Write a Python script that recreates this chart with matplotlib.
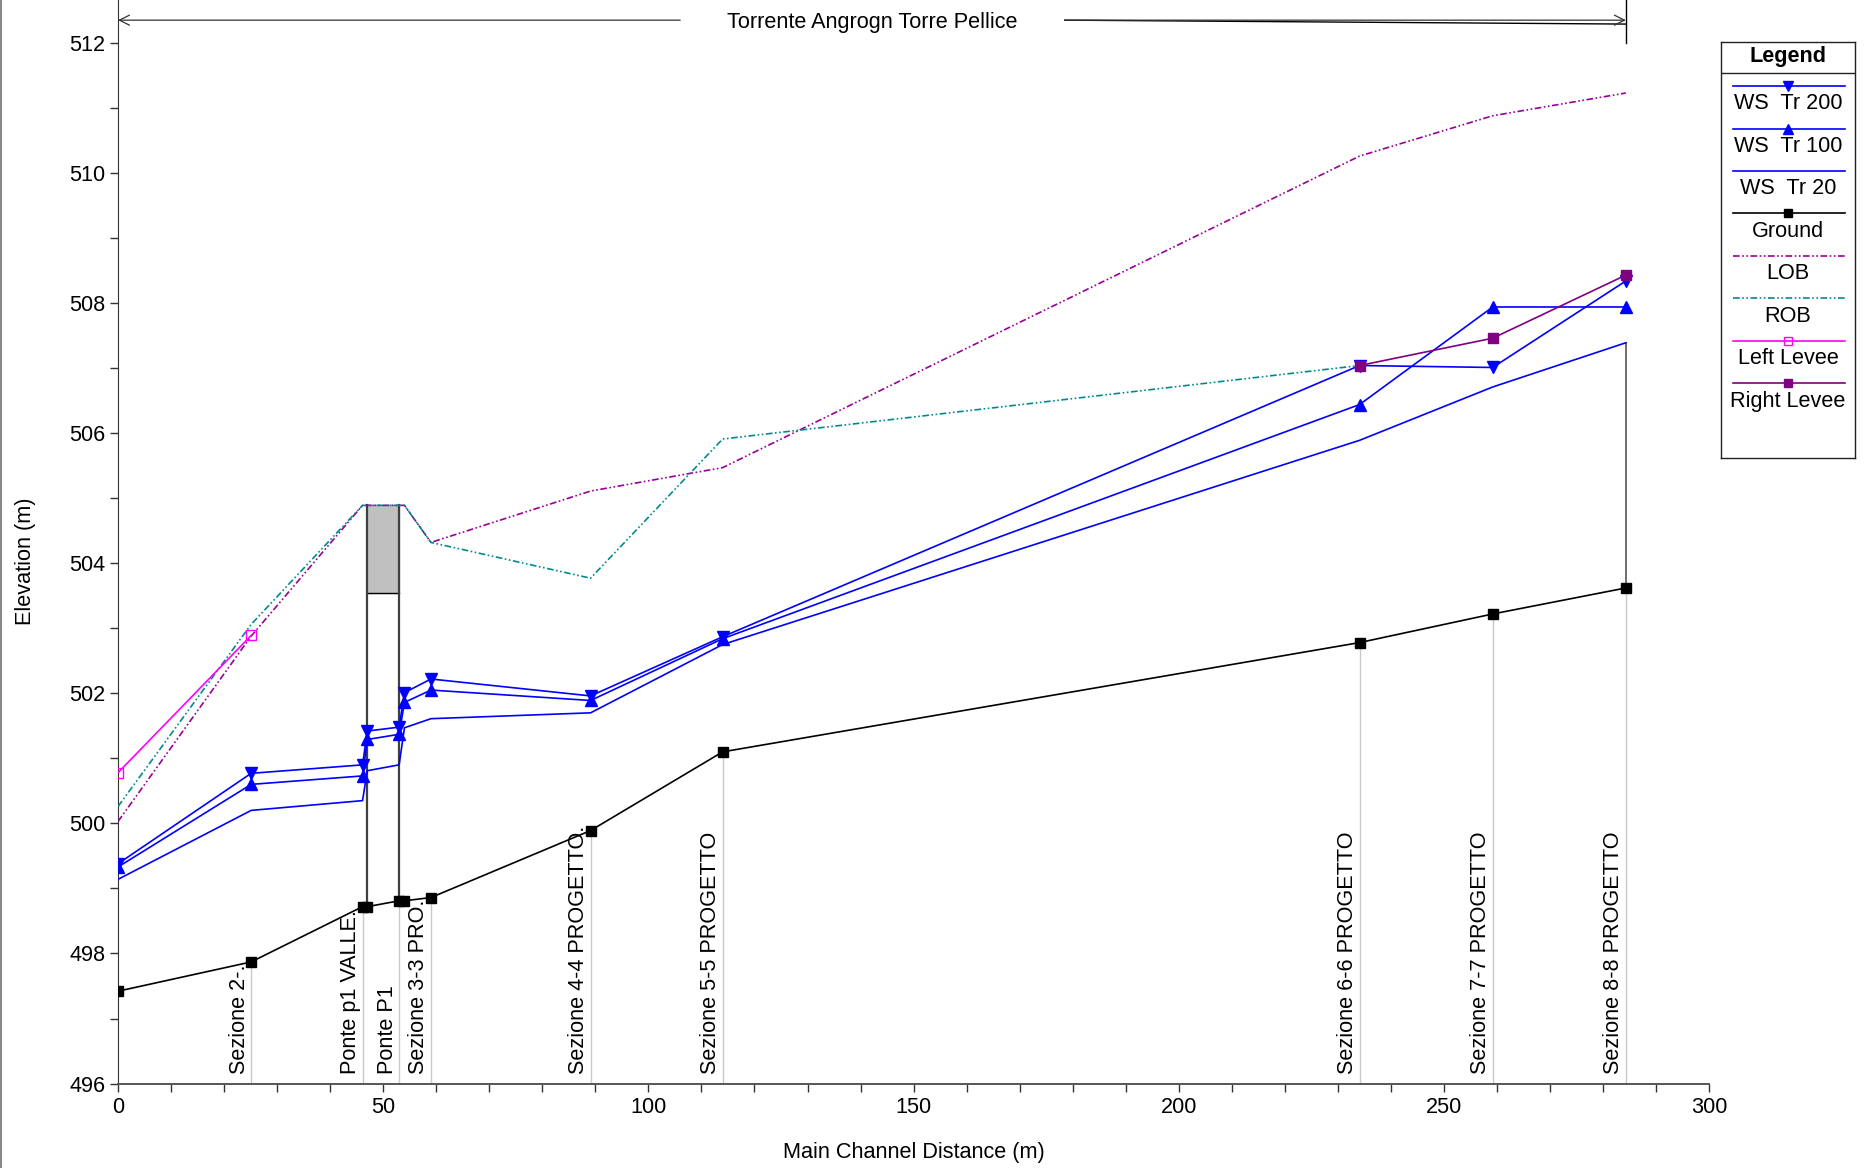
import numpy as np
import matplotlib
matplotlib.use('Agg')
import matplotlib.pyplot as plt
from matplotlib.ticker import MultipleLocator
from matplotlib.lines import Line2D

plt.rcParams['font.family'] = ['Liberation Sans', 'DejaVu Sans']

# ── Profile data ────────────────────────────────────────────────
station = [0, 25.1, 46.1, 47.0, 53.0, 54.0, 59.0, 89.1, 114.0, 234.1, 259.2, 284.3]
ground = [497.42, 497.87, 498.72, 498.72, 498.81, 498.81, 498.86, 499.89, 501.10, 502.78, 503.22, 503.62]
ws_tr200 = [499.38, 500.77, 500.90, 501.42, 501.48, 502.01, 502.22, 501.96, 502.87, 507.04, 507.01, 508.34]
ws_tr100 = [499.33, 500.60, 500.73, 501.29, 501.37, 501.86, 502.05, 501.89, 502.84, 506.44, 507.94, 507.94]
ws_tr20 = [499.14, 500.20, 500.35, 500.81, 500.90, 501.47, 501.61, 501.70, 502.75, 505.89, 506.71, 507.39]
lob = [500.03, 502.88, 504.89, 504.89, 504.89, 504.89, 504.32, 505.11, 505.47, 510.26, 510.88, 511.23]
rob = [500.26, 503.06, 504.89, 504.89, 504.89, 504.89, 504.32, 503.77, 505.91, 507.04, np.nan, np.nan]

left_levee_x = [0, 25.1]
left_levee = [500.78, 502.89]
right_levee_x = [234.1, 259.2, 284.3]
right_levee = [507.04, 507.46, 508.43]

# bridge deck
bridge_x = [47.0, 53.0]
low_chord = 503.55
high_chord = 504.89

# station labels
label_x = [25.1, 46.1, 53.0, 59.0, 89.1, 114.0, 234.1, 259.2, 284.3]
label_text = ["Sezione 2-.", "Ponte p1 VALLE.", "Ponte P1", "Sezione 3-3 PRO.",
              "Sezione 4-4 PROGETTO.", "Sezione 5-5 PROGETTO", "Sezione 6-6 PROGETTO",
              "Sezione 7-7 PROGETTO", "Sezione 8-8 PROGETTO"]

reach_name = "Torrente Angrogn Torre Pellice"

FS = 15.6

# series styles: (label, x, y, color, linestyle, marker, mfc)
series = [
    ("WS  Tr 200", station, ws_tr200, '#0000ff', '-', 'v', '#0000ff'),
    ("WS  Tr 100", station, ws_tr100, '#0000ff', '-', '^', '#0000ff'),
    ("WS  Tr 20", station, ws_tr20, '#0000ff', '-', None, '#0000ff'),
    ("Ground", station, ground, '#000000', '-', 's', '#000000'),
    ("LOB", station, lob, '#990099', (0, (4, 1.5, 1, 1.5, 1, 1.5)), None, None),
    ("ROB", station, rob, '#008b8b', (0, (4, 1.5, 1, 1.5, 1, 1.5)), None, None),
    ("Left Levee", left_levee_x, left_levee, '#ff00ff', '-', 's', 'none'),
    ("Right Levee", right_levee_x, right_levee, '#800080', '-', 's', '#800080'),
]

fig = plt.figure(figsize=(18.65, 11.68), dpi=100)
ax = fig.add_axes([0.0633, 0.0723, 0.8531, 0.9277])

# station lines and labels
gl = np.interp(label_x, station, ground)
for xs, g, txt in zip(label_x, gl, label_text):
    ax.plot([xs, xs], [496, g], color='#c8c8c8', lw=1.0, zorder=1)
    ax.text(xs - 0.3, 496.15, txt, rotation=90, ha='right', va='bottom',
            fontsize=FS, color='black', zorder=2)

# bridge
ax.fill_between(bridge_x, low_chord, high_chord, color='#c0c0c0', zorder=2)
ax.plot([bridge_x[0], bridge_x[1]], [low_chord, low_chord], color='black', lw=1.0, zorder=3)
gb = np.interp(bridge_x, station, ground)
for xb, g in zip(bridge_x, gb):
    ax.plot([xb, xb], [g, high_chord], color='#404040', lw=1.6, zorder=3)

# end wall at downstream end
ax.plot([station[-1], station[-1]], [ground[-1], ws_tr20[-1]], color='#555555', lw=1.2, zorder=3)

for lab, xs, ys, col, ls, mk, mfc in series:
    ms = 7 if mk == 's' else 8.5
    ax.plot(xs, ys, color=col, linestyle=ls, lw=1.2, marker=mk, ms=ms,
            markerfacecolor=mfc, markeredgecolor=col, zorder=4)

# reach annotation on top
y_arrow = 512.35
ax.text(142.2, 512.31, reach_name, ha='center', va='center', fontsize=FS)
ax.annotate('', xy=(0, y_arrow), xytext=(106, y_arrow),
            arrowprops=dict(arrowstyle='->', color='#333333', lw=0.9,
                            mutation_scale=18, shrinkA=0, shrinkB=0))
ax.annotate('', xy=(station[-1], y_arrow), xytext=(178.5, y_arrow),
            arrowprops=dict(arrowstyle='->', color='#333333', lw=0.9,
                            mutation_scale=18, shrinkA=0, shrinkB=0))
ax.plot([178.5, station[-1]], [y_arrow, 512.29], color='black', lw=1.0)
ax.plot([station[-1], station[-1]], [512.0, 512.66], color='black', lw=1.0)

ax.set_xlim(0, 300)
ax.set_ylim(496, 512.66)
ax.xaxis.set_major_locator(MultipleLocator(50))
ax.xaxis.set_minor_locator(MultipleLocator(10))
ax.yaxis.set_major_locator(MultipleLocator(2))
ax.yaxis.set_minor_locator(MultipleLocator(1))
ax.tick_params(which='both', direction='out', length=6, width=1.0, color='#333333')
ax.tick_params(axis='x', labelsize=FS, pad=4)
ax.tick_params(axis='y', labelsize=FS, pad=3)
for side in ('top', 'right'):
    ax.spines[side].set_visible(False)
ax.spines['left'].set_color('#333333')
ax.spines['bottom'].set_color('#555555')
ax.spines['bottom'].set_linewidth(1.4)

ax.set_xlabel('Main Channel Distance (m)', fontsize=FS, labelpad=17)
ax.set_ylabel('Elevation (m)', fontsize=FS)
ax.yaxis.set_label_coords(-0.0516, 0.482)

# ── Legend (line sample above label) ────────────────────────────
lg = fig.add_axes([0.9228, 0.6079, 0.0718, 0.3561])
lg.set_xlim(0, 1)
lg.set_ylim(0, 1)
lg.set_xticks([])
lg.set_yticks([])
for sp in lg.spines.values():
    sp.set_color('#222222')
    sp.set_linewidth(1.0)
lg.text(0.5, 0.966, 'Legend', ha='center', va='center', fontsize=FS, fontweight='bold')
lg.plot([0, 1], [0.926, 0.926], color='#222222', lw=1.0)
step = 35.75 / 350
for i, (lab, xs, ys, col, ls, mk, mfc) in enumerate(series):
    yl = (385 - 72) / 350 - i * step
    yt = (385 - 87) / 350 - i * step
    lg.plot([0.088, 0.929], [yl, yl], color=col, linestyle=ls, lw=1.2)
    if mk is not None:
        lg.plot([0.5], [yl], color=col, marker=mk, ms=6 if mk == 's' else 7,
                markerfacecolor=mfc, markeredgecolor=col)
    lg.text(0.5, yt, lab, ha='center', va='center', fontsize=FS)

fig.add_artist(Line2D([0.0008, 0.0008], [0, 1], transform=fig.transFigure,
                      color='#888888', lw=1.5))

fig.savefig('out.png', dpi=100, facecolor='white')
